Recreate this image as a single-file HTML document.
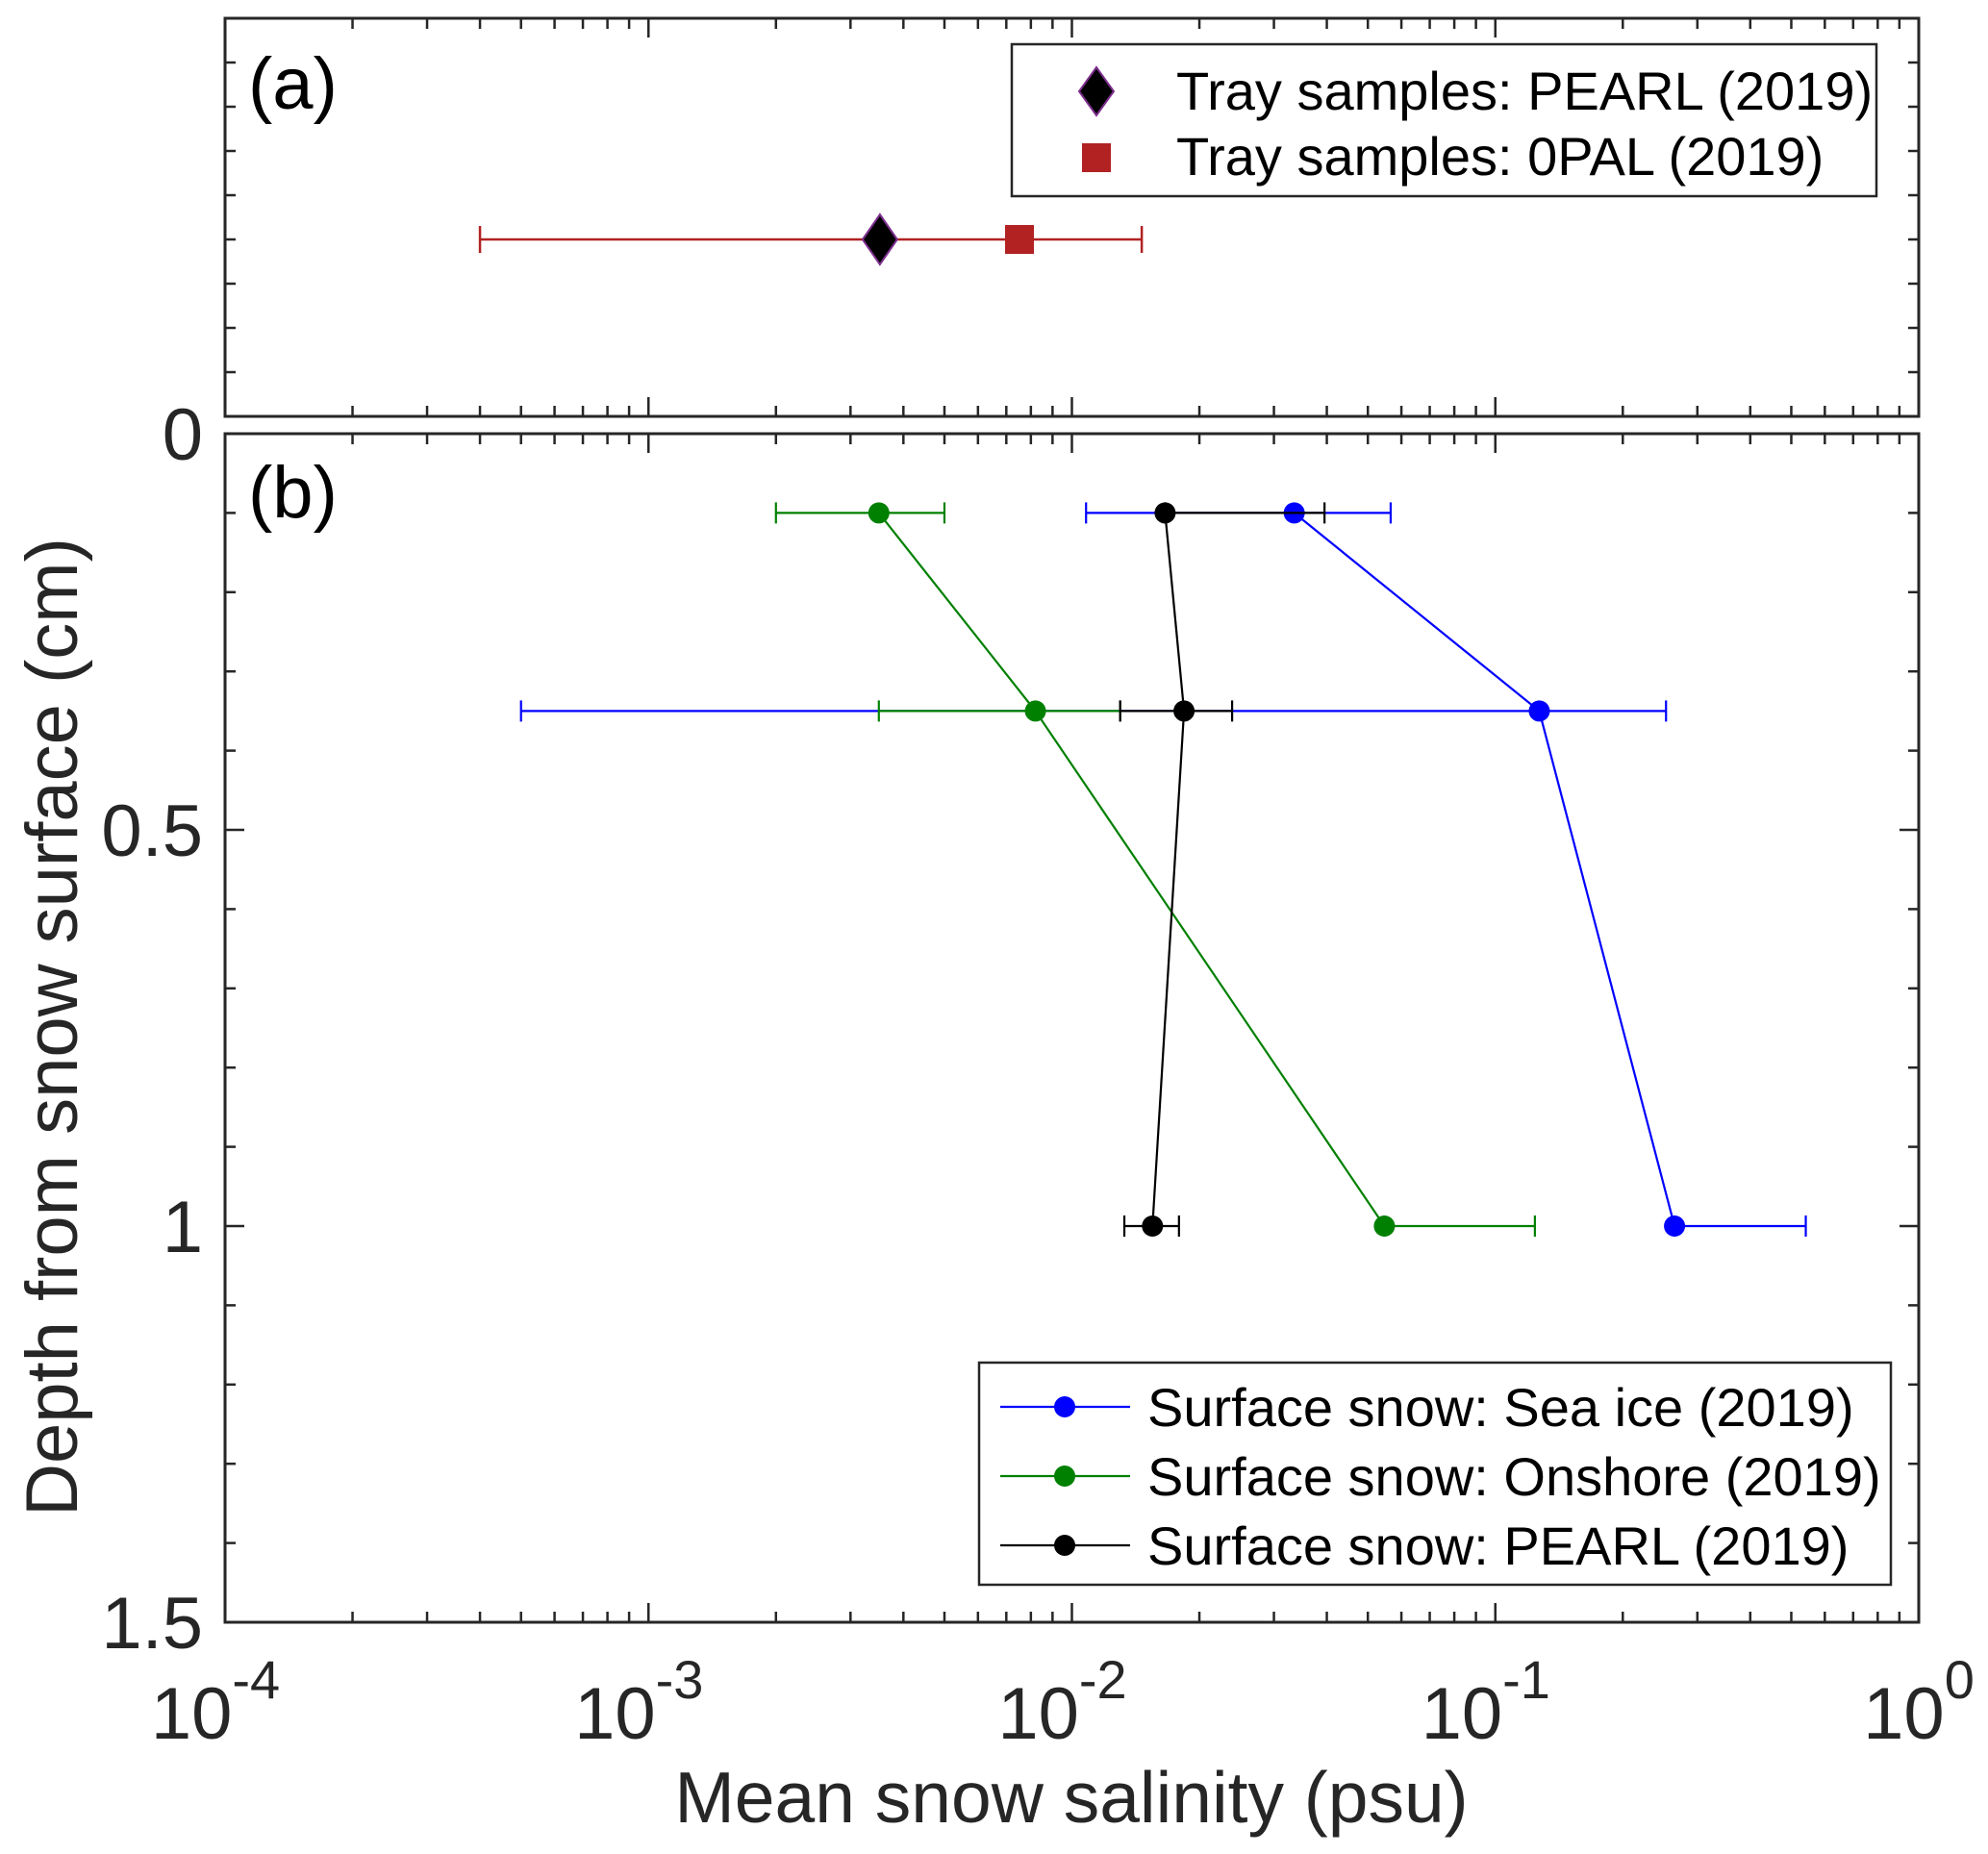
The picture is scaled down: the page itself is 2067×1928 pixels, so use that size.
<!DOCTYPE html>
<html><head><meta charset="utf-8"><style>
html,body{margin:0;padding:0;background:#fff;}
svg{display:block;font-family:"Liberation Sans",Arial,sans-serif;}
</style></head><body>
<svg id="chart" width="2067" height="1928" viewBox="0 0 2067 1928" xmlns="http://www.w3.org/2000/svg"></svg>
<script>
// ---- data ----
const depths = [0.1, 0.35, 1.0];
const seaIceMean = [0.0335, 0.127, 0.265];
const seaIceLow = [0.0108, 0.0005, 0.265];
const seaIceHigh = [0.0566, 0.253, 0.541];
const onshoreMean = [0.0035, 0.0082, 0.0547];
const onshoreLow = [0.002, 0.0035, 0.0547];
const onshoreHigh = [0.005, 0.013, 0.124];
const pearlMean = [0.0166, 0.0184, 0.0155];
const pearlLow = [0.0166, 0.013, 0.0133];
const pearlHigh = [0.0395, 0.0239, 0.0179];
const trayPearl = 0.00352;
const trayOpal = 0.00752;
const trayLow = 0.0004;
const trayHigh = 0.01462;
const trayLevel = 4;
const xTickExps = [-4, -3, -2, -1, 0];
const yTickLabels = ["0", "0.5", "1", "1.5"];
const yTickValues = [0, 0.5, 1, 1.5];

// ---- geometry ----
const L = 234, R = 1995, AT = 19, AB = 433, BT = 451, BB = 1687;
const NS = "http://www.w3.org/2000/svg";
const svg = document.getElementById('chart');
function X(v){ return L + (Math.log10(v) + 4) * (R - L) / 4; }
function Y(d){ return BT + d * (BB - BT) / 1.5; }
function YA(v){ return AB - v * 46; }
function mk(tag, attrs, parent){
  const e = document.createElementNS(NS, tag);
  for (const k in attrs) e.setAttribute(k, attrs[k]);
  (parent || svg).appendChild(e);
  return e;
}

function box(top, bottom, name){
  const g = mk('g', {});
  
  
  mk('rect', {x:L, y:top, width:R-L, height:bottom-top, fill:'none', stroke:'#262626', 'stroke-width':3}, g);
  for (let e = -4; e < 0; e++) {
    for (let m = 1; m <= 9; m++) {
      if (m === 1 && e === -4) continue;
      const x = X(m * Math.pow(10, e));
      const len = m === 1 ? 20 : 11;
      mk('line', {x1:x, x2:x, y1:bottom, y2:bottom-len, stroke:'#262626', 'stroke-width':2.5}, g);
      mk('line', {x1:x, x2:x, y1:top, y2:top+len, stroke:'#262626', 'stroke-width':2.5}, g);
    }
  }
  return g;
}
const ga = box(AT, AB, 'panel-a-axes');
for (let i = 1; i < 9; i++) {
  const y = YA(i);
  mk('line', {x1:L, x2:L+11, y1:y, y2:y, stroke:'#262626', 'stroke-width':2.5}, ga);
  mk('line', {x1:R, x2:R-11, y1:y, y2:y, stroke:'#262626', 'stroke-width':2.5}, ga);
}
const gb = box(BT, BB, 'panel-b-axes');
for (let i = 1; i < 15; i++) {
  const y = Y(i / 10);
  const len = i % 5 === 0 ? 20 : 11;
  mk('line', {x1:L, x2:L+len, y1:y, y2:y, stroke:'#262626', 'stroke-width':2.5}, gb);
  mk('line', {x1:R, x2:R-len, y1:y, y2:y, stroke:'#262626', 'stroke-width':2.5}, gb);
}

yTickValues.forEach((v, i) => {
  const t = mk('text', {x:211, y:Y(v)+27, 'text-anchor':'end', 'font-size':76, fill:'#262626'});
  
  
  t.textContent = yTickLabels[i];
});
xTickExps.forEach(e => {
  const x = X(Math.pow(10, e));
  const t = mk('text', {x:x - (e < 0 ? 10 : 0), y:1808, 'text-anchor':'middle', 'font-size':76, fill:'#262626'});
  
  
  t.textContent = '10';
  const s = mk('tspan', {dy:-42, 'font-size':56}, t);
  s.textContent = String(e);
});

let t = mk('text', {x:1114, y:1895, 'text-anchor':'middle', 'font-size':75, fill:'#262626'});


t.textContent = 'Mean snow salinity (psu)';
t = mk('text', {x:0, y:0, 'text-anchor':'middle', 'font-size':76, fill:'#262626', transform:'translate(80,1068) rotate(-90)'});


t.textContent = 'Depth from snow surface (cm)';
t = mk('text', {x:258, y:113, 'font-size':76, fill:'#000'});


t.textContent = '(a)';
t = mk('text', {x:258, y:538, 'font-size':76, fill:'#000'});


t.textContent = '(b)';

const ya = YA(trayLevel);
const trayG = mk('g', {});


mk('line', {x1:X(trayLow), x2:X(trayHigh), y1:ya, y2:ya, stroke:'#b22222', 'stroke-width':2.5}, trayG);
mk('line', {x1:X(trayLow), x2:X(trayLow), y1:ya-14, y2:ya+14, stroke:'#b22222', 'stroke-width':2.5}, trayG);
mk('line', {x1:X(trayHigh), x2:X(trayHigh), y1:ya-14, y2:ya+14, stroke:'#b22222', 'stroke-width':2.5}, trayG);
let xd = X(trayPearl);
let dm = mk('polygon', {points:`${xd},${ya-26} ${xd+18},${ya} ${xd},${ya+26} ${xd-18},${ya}`, fill:'#000', stroke:'#7e2f8e', 'stroke-width':2});


let xs = X(trayOpal);
let sq = mk('rect', {x:xs-15, y:ya-15, width:30, height:30, fill:'#b22222'});



const lgA = mk('g', {});


mk('rect', {x:1052, y:46, width:899, height:158, fill:'#fff', stroke:'#262626', 'stroke-width':2.5}, lgA);
mk('polygon', {points:'1140,70 1158,95 1140,120 1122,95', fill:'#000', stroke:'#7e2f8e', 'stroke-width':2}, lgA);
mk('rect', {x:1125, y:149, width:30, height:30, fill:'#b22222'}, lgA);
t = mk('text', {x:1223, y:114, 'font-size':56, fill:'#000'}, lgA);


t.textContent = 'Tray samples: PEARL (2019)';
t = mk('text', {x:1223, y:182, 'font-size':56, fill:'#000'}, lgA);


t.textContent = 'Tray samples: 0PAL (2019)';

function series(name, color, mean, low, high){
  const g = mk('g', {});
  
  
  depths.forEach((d, i) => {
    const y = Y(d);
    mk('line', {x1:X(low[i]), x2:X(high[i]), y1:y, y2:y, stroke:color, 'stroke-width':2.2}, g);
    mk('line', {x1:X(low[i]), x2:X(low[i]), y1:y-11, y2:y+11, stroke:color, 'stroke-width':2.2}, g);
    mk('line', {x1:X(high[i]), x2:X(high[i]), y1:y-11, y2:y+11, stroke:color, 'stroke-width':2.2}, g);
  });
  const pts = depths.map((d, i) => X(mean[i]) + ',' + Y(d)).join(' ');
  mk('polyline', {points:pts, fill:'none', stroke:color, 'stroke-width':2.2}, g);
  depths.forEach((d, i) => {
    const c = mk('circle', {cx:X(mean[i]), cy:Y(d), r:11, fill:color}, g);
    
    
  });
}
series('sea-ice-series', '#0000ff', seaIceMean, seaIceLow, seaIceHigh);
series('onshore-series', '#008000', onshoreMean, onshoreLow, onshoreHigh);
series('pearl-series', '#000000', pearlMean, pearlLow, pearlHigh);

const lgB = mk('g', {});


mk('rect', {x:1018, y:1417, width:948, height:231, fill:'#fff', stroke:'#262626', 'stroke-width':2.5}, lgB);
const lgNames = ['Surface snow: Sea ice (2019)', 'Surface snow: Onshore (2019)', 'Surface snow: PEARL (2019)'];
const lgColors = ['#0000ff', '#008000', '#000000'];
const lgY = [1463, 1535, 1607];
lgNames.forEach((n, i) => {
  mk('line', {x1:1040, x2:1175, y1:lgY[i], y2:lgY[i], stroke:lgColors[i], 'stroke-width':2.2}, lgB);
  mk('circle', {cx:1107, cy:lgY[i], r:11, fill:lgColors[i]}, lgB);
  const tt = mk('text', {x:1193, y:lgY[i]+20, 'font-size':56, fill:'#000'}, lgB);
  
  
  tt.textContent = n;
});
</script>
</body></html>
